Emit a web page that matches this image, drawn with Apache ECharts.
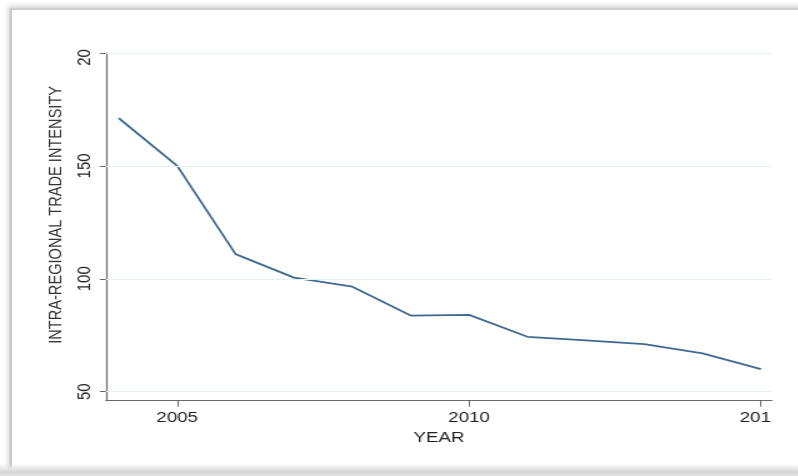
<!DOCTYPE html>
<html>
<head>
<meta charset="utf-8">
<script src="https://cdn.jsdelivr.net/npm/echarts@6/dist/echarts.min.js"></script>
<style>
  html, body { margin: 0; padding: 0; background: #fff; overflow: hidden; width: 798px; height: 476px; }
  #stage { position: relative; width: 798px; height: 476px; overflow: hidden; background: #fff; }
  #frame {
    position: absolute; left: 10px; top: 8px; width: 1000px; height: 600px;
    border-left: 2px solid #c9c9c9; border-top: 2px solid #cfcfcf;
    box-shadow: -2px -2px 5px rgba(0,0,0,0.18);
    background: #fff;
  }
  #bottomShade {
    position: absolute; left: 0; top: 464px; width: 798px; height: 12px;
    background: linear-gradient(to bottom, rgba(255,255,255,0) 0%, #e6e6e6 40%, #d4d4d4 70%, #e2e2e2 100%);
  }
  #chart {
    position: absolute; left: 0; top: 0; width: 624px; height: 476px;
    transform: scaleX(1.25); transform-origin: 0 0; background: transparent;
  }
</style>
</head>
<body>
<div id="stage">
  <div id="frame"></div>
  <div id="bottomShade"></div>
  <div id="chart"></div>
</div>
<script>
// Intra-regional trade intensity by year
const years = [2004, 2005, 2006, 2007, 2008, 2009, 2010, 2011, 2012, 2013, 2014, 2015];
const intensity = [171.1, 150.0, 110.9, 100.5, 96.5, 83.7, 84.0, 74.3, 72.7, 71.1, 67.0, 60.0];

const xTickValues = [2005, 2010, 2015];
const xTickLabels = ['2005', '2010', '201'];
const yTickValues = [50, 100, 150, 200];
const yTickLabels = ['50', '100', '150', '20'];

const FONT = '"Liberation Sans", Arial, Helvetica, sans-serif';
const chart = echarts.init(document.getElementById('chart'), null, { renderer: 'canvas' });

const lineData = years.map((y, i) => [y, intensity[i]]);

chart.setOption({
  animation: false,
  backgroundColor: 'transparent',
  grid: { left: 84.8, right: 6.4, top: 53, bottom: 75.3, containLabel: false },
  xAxis: {
    type: 'value',
    min: 2003.78,
    max: 2015.19,
    name: 'YEAR',
    nameLocation: 'middle',
    nameGap: 22,
    nameTextStyle: { fontFamily: FONT, fontSize: 15, color: '#222', verticalAlign: 'top' },
    axisLine: { show: true, onZero: false, lineStyle: { color: '#6b6b6b', width: 1.2 } },
    axisTick: { show: true, length: 6, customValues: xTickValues, lineStyle: { color: '#6b6b6b', width: 1 } },
    axisLabel: {
      show: true,
      customValues: xTickValues,
      margin: 10,
      fontFamily: FONT, fontSize: 15, color: '#222',
      formatter: v => {
        const t = xTickLabels[xTickValues.indexOf(v)];
        return t === '201' ? '{cut|' + t + '}' : t;
      },
      rich: { cut: { fontFamily: FONT, fontSize: 15, color: '#222', padding: [0, 9, 0, 0] } }
    },
    splitLine: { show: false }
  },
  yAxis: {
    type: 'value',
    min: 46,
    max: 200,
    name: 'INTRA-REGIONAL TRADE INTENSITY',
    nameLocation: 'middle',
    nameGap: 27,
    nameRotate: 90,
    nameTextStyle: { fontFamily: FONT, fontSize: 14.6, color: '#333', padding: [0, 0, 0, 24] },
    axisLine: { show: true, onZero: false, lineStyle: { color: '#6b6b6b', width: 1.2 } },
    axisTick: { show: true, length: 5, customValues: yTickValues, lineStyle: { color: '#6b6b6b', width: 1 } },
    axisLabel: {
      show: true,
      customValues: yTickValues,
      rotate: 90,
      margin: 9,
      fontFamily: FONT, fontSize: 15, color: '#222',
      formatter: v => {
        const t = yTickLabels[yTickValues.indexOf(v)];
        return t === '20' ? '{cut|' + t + '}' : t;
      },
      rich: { cut: { fontFamily: FONT, fontSize: 15, color: '#222', padding: [0, 9, 0, 0] } }
    },
    splitLine: { show: false }
  },
  series: [{
    type: 'line',
    data: lineData,
    showSymbol: false,
    symbol: 'none',
    lineStyle: { color: '#41698f', width: 1.8 },
    markLine: {
      silent: true,
      symbol: 'none',
      label: { show: false },
      lineStyle: { color: '#e7f0f2', width: 1.2, type: 'solid' },
      data: yTickValues.map(v => ({ yAxis: v }))
    },
    z: 3
  }]
});
</script>
</body>
</html>
